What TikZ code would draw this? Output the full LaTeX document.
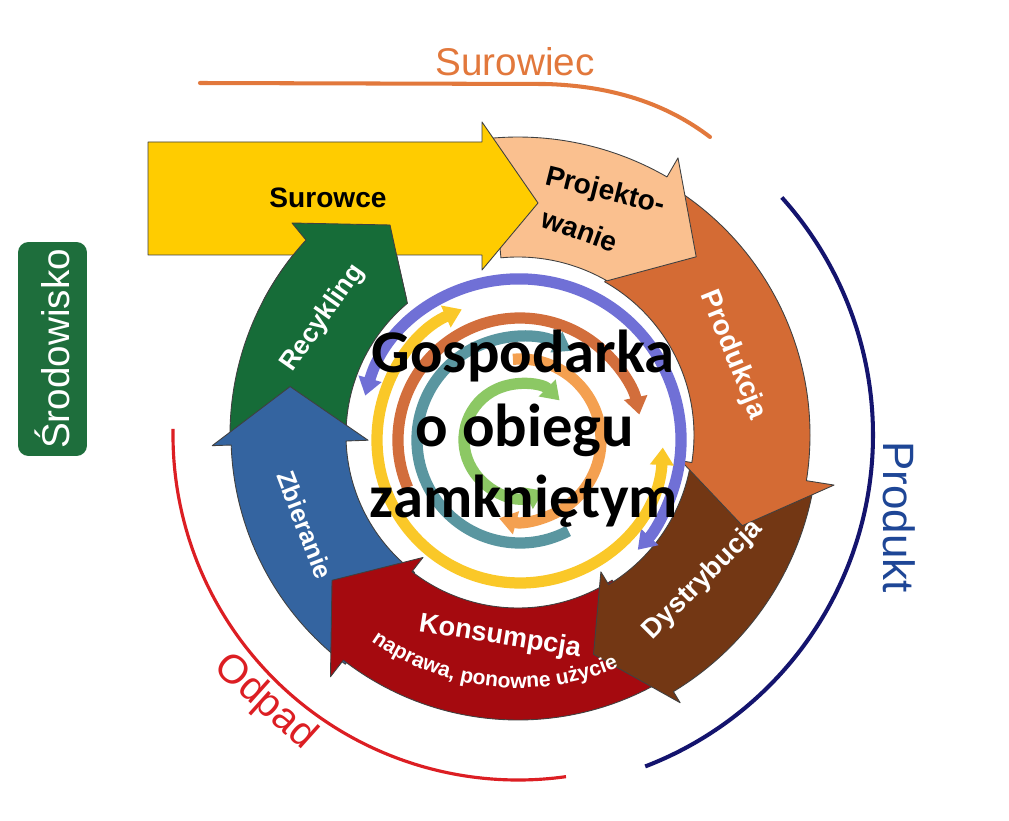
\documentclass[tikz,border=0pt]{standalone}
\usepackage{fontspec}
\setmainfont{Liberation Sans}
\newfontfamily\calfont{Carlito}
\usetikzlibrary{arrows.meta,decorations.text,calc}
\definecolor{cYel}{RGB}{255,204,0}
\definecolor{cPeach}{RGB}{250,192,143}
\definecolor{cOrange}{RGB}{212,107,52}
\definecolor{cBrown}{RGB}{115,55,20}
\definecolor{cRed}{RGB}{165,10,15}
\definecolor{cBlue}{RGB}{52,100,160}
\definecolor{cGreen}{RGB}{22,108,56}
\definecolor{cEnv}{RGB}{30,110,60}
\definecolor{cSur}{RGB}{226,120,60}
\definecolor{cNavy}{RGB}{20,20,110}
\definecolor{cProdT}{RGB}{30,70,150}
\definecolor{cOdp}{RGB}{220,30,35}
\definecolor{cIPur}{RGB}{112,112,214}
\definecolor{cIYel}{RGB}{250,200,40}
\definecolor{cIOra}{RGB}{210,110,60}
\definecolor{cITeal}{RGB}{90,150,160}
\definecolor{cILOra}{RGB}{244,160,80}
\definecolor{cIGrn}{RGB}{140,200,100}
\tikzset{
  ringshape/.style={draw=black!75, line width=0.5pt, line join=round},
  lbl/.style={font=\bfseries\fontsize{16}{19}\selectfont, text=white, inner sep=0pt},
  blbl/.style={font=\bfseries\fontsize{16}{19}\selectfont, text=black, inner sep=0pt},
  outlbl/.style={font=\fontsize{23}{27}\selectfont, inner sep=0pt},
  ctext/.style={font=\calfont\bfseries\fontsize{34.5}{40}\selectfont, text=black, inner sep=0pt, anchor=base},
  innerarc/.style={line width=6.4pt, >={Triangle[length=10pt,width=13pt]}}
}
\begin{document}
\begin{tikzpicture}[x=0.02cm,y=-0.02cm]
\useasboundingbox (0,0) rectangle (1009,821);
\fill[white] (0,0) rectangle (1009,821);

% outer category arcs
\draw[cSur, line width=2.3pt, line cap=round] (200,83) -- (545,84) .. controls (620,86) and (672,108) .. (710,137);
\node[outlbl, text=cSur, font=\fontsize{22}{26}\selectfont] (surowiec) at (515,62) {Surowiec};
\begin{scope}[shift={(518,435)}]
  \draw[cNavy, line width=2.3pt] (-42:355) arc[start angle=-42,end angle=69,radius=355];
  \draw[cOdp, line width=1.8pt] (82:345) arc[start angle=82,end angle=181,radius=345];
\end{scope}
\node[outlbl, text=cProdT, rotate=-90, font=\fontsize{25}{29}\selectfont] (produkt) at (899,517) {Produkt};
\node[outlbl, text=cOdp, rotate=-42] (odpad) at (265,702) {Odpad};
\node[rotate=90, fill=cEnv, rounded corners=6pt, minimum width=4.28cm, minimum height=1.38cm,
      text=white, font=\fontsize{22}{26}\selectfont, inner sep=0pt] (env) at (52.5,349) {Środowisko};

% ring segments
\begin{scope}[shift={(518,435)}]
  % Recykling
  \filldraw[ringshape, fill=cGreen] (-226,-212) -- (-128,-210) -- (-121,-178) -- (230:172)
     arc[start angle=230,end angle=178,radius=172] -- (178:288)
     arc[start angle=178,end angle=222.6,radius=288] -- cycle;
  % Zbieranie
  \filldraw[ringshape, fill=cBlue] (127:287) arc[start angle=127,end angle=178,radius=287]
     -- (178:306) -- (192:233) -- (178:150) -- (178:172)
     arc[start angle=178,end angle=127,radius=172] -- cycle;
  % Konsumpcja
  \filldraw[ringshape, fill=cRed] (57:285) arc[start angle=57,end angle=127.8,radius=285]
     -- (127.8:306) -- (142:236) -- (127.8:155) -- (127.8:173)
     arc[start angle=127.8,end angle=57,radius=173] -- cycle;
  % Dystrybucja
  \filldraw[ringshape, fill=cBrown] (11:300) arc[start angle=11,end angle=58.8,radius=300]
     -- (58.8:313) -- (71:232) -- (58.8:160) -- (58.8:175)
     arc[start angle=58.8,end angle=11,radius=175] -- cycle;
  % Produkcja
  \filldraw[ringshape, fill=cOrange] (-60.5:292) arc[start angle=-60.5,end angle=9,radius=292]
     -- (9:320) -- (22:242) -- (9:165) -- (9:176)
     arc[start angle=9,end angle=-60.5,radius=176] -- cycle;
  % Projektowanie
  \filldraw[ringshape, fill=cPeach] (-95.5:298) arc[start angle=-95.5,end angle=-60,radius=298]
     -- (-60:320) -- (-45:252) -- (-60:178)
     arc[start angle=-60,end angle=-95.5,radius=178] -- cycle;
\end{scope}

% Surowce arrow
\filldraw[ringshape, fill=cYel] (148,142) -- (482,142) -- (482,122) -- (538,203)
   -- (482,270) -- (482,255) -- (148,255) -- cycle;

% green head over the yellow arrow
\begin{scope}
  \clip (240,190) rectangle (430,300);
  \begin{scope}[shift={(518,435)}]
  \filldraw[ringshape, fill=cGreen] (-226,-212) -- (-128,-210) -- (-121,-178) -- (230:172)
     arc[start angle=230,end angle=178,radius=172] -- (178:288)
     arc[start angle=178,end angle=222.6,radius=288] -- cycle;
  \end{scope}
\end{scope}

% ring labels
\node[blbl] (surowce) at (328,198) {Surowce};
\node[blbl, rotate=-14] (proj1) at (605,192) {Projekto-};
\node[blbl, rotate=-20] (proj2) at (580,230) {wanie};
\node[lbl, rotate=-68] (produkcja) at (733,355) {Produkcja};
\node[lbl, rotate=45, font=\bfseries\fontsize{15.5}{18}\selectfont] (dystr) at (703,580) {Dystrybucja};
\node[lbl, rotate=-9, font=\bfseries\fontsize{15.5}{18}\selectfont] (kons) at (500,637) {Konsumpcja};
\node[lbl, rotate=-69, font=\bfseries\fontsize{14.5}{17}\selectfont] (zbier) at (305,525) {Zbieranie};
\node[lbl, rotate=55, font=\bfseries\fontsize{15}{18}\selectfont] (recyk) at (323,318) {Recykling};
\begin{scope}[shift={(518,435)}]
  \path[decoration={text along path, text color=white, text align=center,
        text={|\bfseries\fontsize{12}{14}\selectfont|naprawa, ponowne użycie}}, decorate]
        (126:253) arc[start angle=126,end angle=66,radius=253];
\end{scope}

% inner circular arrows
\begin{scope}[shift={(520,440)}]
  \draw[innerarc, cIPur, <->] (196:161) arc[start angle=196,end angle=403,radius=161];
  \draw[innerarc, cIYel, <->] (3:143) arc[start angle=3,end angle=246,radius=143];
  \draw[innerarc, cIOra, ->] (157:122) arc[start angle=157,end angle=348,radius=122];
  \draw[innerarc, cITeal, ->] (62:103) arc[start angle=62,end angle=300,radius=103];
  \draw[innerarc, cILOra, ->] (-95:81) arc[start angle=-95,end angle=105,radius=81];
  \draw[innerarc, cIGrn, <->] (65:56) arc[start angle=65,end angle=315,radius=56];
\end{scope}

% centre title
\node[ctext] (g1) at (523,373) {Gospodarka};
\node[ctext] (g2) at (525,446) {o obiegu};
\node[ctext] (g3) at (524,518) {zamkniętym};
\end{tikzpicture}
\end{document}
